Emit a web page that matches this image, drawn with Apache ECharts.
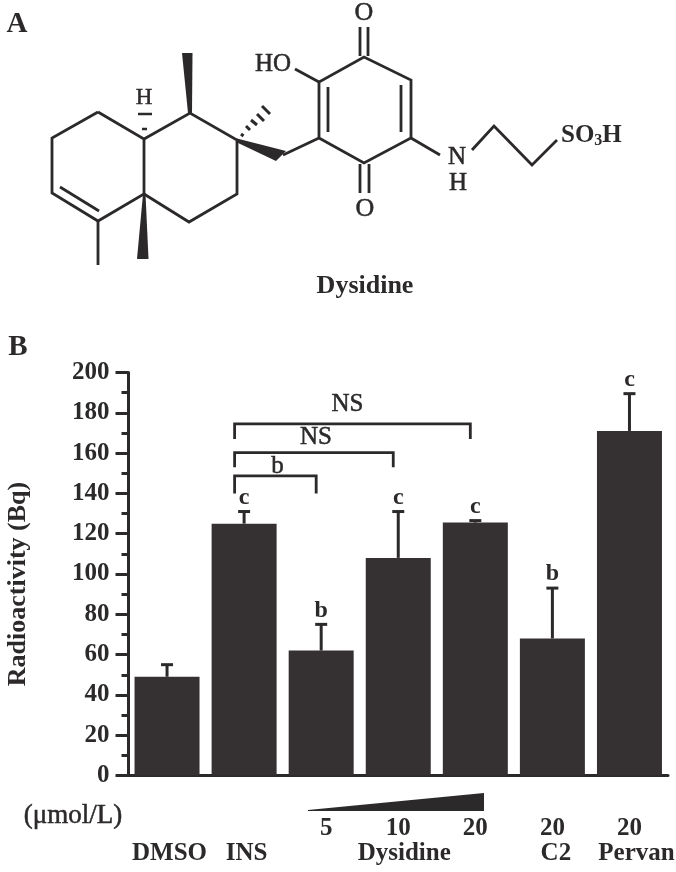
<!DOCTYPE html>
<html>
<head>
<meta charset="utf-8">
<style>html,body{margin:0;padding:0;background:#fff}#chart{width:676px;height:872px}</style>
<script src="https://cdn.jsdelivr.net/npm/echarts@6/dist/echarts.min.js"></script>
</head>
<body>
<div id="chart"></div>
<script>
const groups = ['DMSO', 'INS', '', 'Dysidine', '', 'C2', 'Pervan'];
const doses = ['', '', '5', '10', '20', '20', '20'];
const means = [49, 125, 62, 108, 125.5, 68, 171];
const upper = [55, 131, 75, 131, 126.5, 93, 189.5];
const letters = ['', 'c', 'b', 'c', 'c', 'b', 'c'];
const yTicks = [0, 20, 40, 60, 80, 100, 120, 140, 160, 180, 200];

const bracketFrom = [1, 1, 1];
const bracketTo = [2, 3, 4];
const bracketTop = [148.7, 160.2, 174.5];
const bracketFoot = [140, 153, 167];
const bracketText = ['b', 'NS', 'NS'];
const bracketTextAt = [153.6, 168, 184];

const ink = '#2c292a';
const barColor = '#353132';
const serif = '"Liberation Serif", serif';

var myChart = echarts.init(document.getElementById('chart'));

function bond(pts, w) {
  return {type: 'polyline', silent: true, shape: {points: pts},
    style: {stroke: ink, lineWidth: w || 2.8, fill: null, lineJoin: 'miter'}};
}
function wedge(pts) {
  return {type: 'polygon', silent: true, shape: {points: pts}, style: {fill: ink}};
}
function label(text, x, y, size, weight, align) {
  return {type: 'text', silent: true, x: x, y: y, style: {
    text: text, fill: ink, font: (weight || 'normal') + ' ' + size + 'px ' + serif,
    align: align || 'center', verticalAlign: 'middle',
    stroke: weight === 'bold' ? null : ink, lineWidth: weight === 'bold' ? 0 : 0.5
  }};
}

// dysidine structure, panel letters and the dose wedge
const structure = [
  bond([[98, 112], [52, 138], [52, 193], [98, 221], [144, 194], [144, 139], [98, 112]]),
  bond([[60, 187], [99, 211]]),
  bond([[98, 221], [98, 265]]),
  bond([[144, 139], [190, 113], [237, 140], [237, 194], [189, 222], [144, 194]]),
  wedge([[188, 113], [192, 113], [192.5, 53], [182, 53]]),
  wedge([[143, 194], [145.5, 194], [148.5, 259], [137, 259]]),
  bond([[138, 114], [152, 114]], 2.5),
  bond([[142, 129], [147, 129]], 2.5),
  bond([[241, 134], [243.5, 136]], 3),
  bond([[246, 126], [250, 130]], 3),
  bond([[251, 120], [257, 125]], 3),
  bond([[257, 114], [264, 121]], 3),
  bond([[262, 106], [270, 114]], 3),
  wedge([[237, 138.5], [286, 151], [276, 161], [236, 142]]),
  bond([[283, 155], [319, 138]]),
  bond([[319, 138], [319, 82], [364, 57], [411, 80], [411, 138], [364, 163], [319, 138]]),
  bond([[328, 87], [328, 132]]),
  bond([[401, 85], [401, 132]]),
  bond([[360, 27], [360, 56]]),
  bond([[368, 27], [368, 56]]),
  bond([[360, 164], [360, 193]]),
  bond([[369, 164], [369, 193]]),
  bond([[295, 69], [319, 82]]),
  bond([[411, 138], [440, 155]]),
  bond([[472, 150], [494, 126], [532, 165], [557, 140]]),
  label('H', 144, 98, 23, 'normal'),
  label('HO', 273, 64, 25, 'normal'),
  label('O', 364, 13, 26, 'normal'),
  label('O', 365, 209, 26, 'normal'),
  label('N', 457, 157, 25, 'normal'),
  label('H', 458, 183, 25, 'normal'),
  {type: 'text', silent: true, x: 561, y: 136, style: {
    text: '{a|SO}{b|3}{a|H}', verticalAlign: 'middle', align: 'left',
    rich: {
      a: {font: 'bold 25px ' + serif, fill: ink},
      b: {font: 'bold 16px ' + serif, fill: ink, padding: [10, 0, 0, 0]}
    }
  }},
  label('Dysidine', 365, 286, 26, 'bold'),
  label('A', 17, 25, 29, 'bold'),
  label('B', 18, 348, 29, 'bold'),
  label('(μmol/L)', 73, 816, 27, 'normal'),
  wedge([[308, 810], [484, 793], [484, 811], [308, 811]])
];

// nudge the axis texts sideways: rich padding moves a centred label by half of it
const textRich = (pad) => ({fontFamily: serif, fontSize: 25, fontWeight: 'bold', color: ink, padding: [0, 0, 0, pad]});

myChart.setOption({
  animation: false,
  backgroundColor: '#fff',
  textStyle: {fontFamily: serif, color: ink},
  grid: {left: 128.5, right: 8, top: 372.5, height: 403, containLabel: false, outerBoundsMode: 'none'},
  xAxis: [{
    type: 'category',
    data: groups,
    axisLine: {lineStyle: {color: ink, width: 3}},
    axisTick: {length: 6, lineStyle: {color: ink, width: 3}},
    axisLabel: {
      interval: 0, margin: 66, fontSize: 25, fontWeight: 'bold', color: ink,
      hideOverlap: false,
      formatter(val) {
        return val ? '{n' + groups.indexOf(val) + '|' + val + '}' : '';
      },
      rich: {n0: textRich(5), n1: textRich(5), n3: textRich(12), n5: textRich(7), n6: textRich(14)}
    }
  }, {
    type: 'category',
    position: 'bottom',
    data: doses,
    axisLine: {show: false},
    axisTick: {alignWithLabel: true, length: 11, lineStyle: {color: ink, width: 3}},
    axisLabel: {
      interval: 0, margin: 41, fontSize: 25, fontWeight: 'bold', color: ink,
      formatter(val) {
        return val === '5' ? '{d|5}' : val;
      },
      rich: {d: textRich(10)}
    }
  }],
  yAxis: {
    type: 'value',
    min: 0,
    max: 200,
    interval: 20,
    splitLine: {show: false},
    name: 'Radioactivity (Bq)',
    nameLocation: 'middle',
    nameGap: 97,
    nameMoveOverlap: false,
    nameTextStyle: {fontSize: 26, fontWeight: 'bold', color: ink, padding: [0, 20, 0, 0]},
    axisLine: {show: true, lineStyle: {color: ink, width: 3}},
    axisTick: {show: true, length: 13, lineStyle: {color: ink, width: 3}},
    minorTick: {show: true, splitNumber: 2, length: 7, lineStyle: {color: ink, width: 3}},
    axisLabel: {
      margin: 19, fontSize: 25, fontWeight: 'bold', color: ink,
      formatter(val) {
        return yTicks.indexOf(val) >= 0 ? String(val) : '';
      }
    }
  },
  graphic: structure,
  series: [{
    type: 'bar',
    data: means,
    barWidth: 65,
    z: 3,
    itemStyle: {color: barColor}
  }, {
    // error bars with the significance letter above the cap
    type: 'custom',
    z: 2,
    data: upper.map((v, i) => [i, v, means[i]]),
    encode: {x: 0, y: 1},
    renderItem(params, api) {
      const top = api.coord([api.value(0), api.value(1)]);
      const base = api.coord([api.value(0), api.value(2)]);
      const style = {stroke: ink, lineWidth: 3};
      return {type: 'group', children: [
        {type: 'line', shape: {x1: top[0], y1: base[1], x2: top[0], y2: top[1]}, style: style},
        {type: 'line', shape: {x1: top[0] - 6, y1: top[1], x2: top[0] + 6, y2: top[1]}, style: style},
        {type: 'text', x: top[0], y: top[1] - 14, style: {
          text: letters[params.dataIndex], fill: ink, font: 'bold 24px ' + serif,
          align: 'center', verticalAlign: 'middle'
        }}
      ]};
    }
  }, {
    // comparison brackets
    type: 'custom',
    data: bracketTop.map((v, i) => [bracketFrom[i], v, bracketTo[i], bracketFoot[i], bracketTextAt[i]]),
    encode: {x: [0, 2], y: [1, 3]},
    renderItem(params, api) {
      const a = api.coord([api.value(0), api.value(1)]);
      const b = api.coord([api.value(2), api.value(3)]);
      const at = api.coord([api.value(0), api.value(4)]);
      const x1 = a[0] - 9.5;
      const x2 = b[0] - 5;
      return {type: 'group', children: [
        {type: 'polyline', shape: {points: [[x1, b[1]], [x1, a[1]], [x2, a[1]], [x2, b[1]]]},
          style: {stroke: ink, lineWidth: 2.8, fill: null}},
        {type: 'text', x: (x1 + x2) / 2 + (params.dataIndex === 2 ? -5 : 2), y: at[1], style: {
          text: bracketText[params.dataIndex], fill: ink, font: 'normal 25px ' + serif,
          align: 'center', verticalAlign: 'middle', stroke: ink, lineWidth: 0.5
        }}
      ]};
    }
  }]
});
</script>
</body>
</html>
